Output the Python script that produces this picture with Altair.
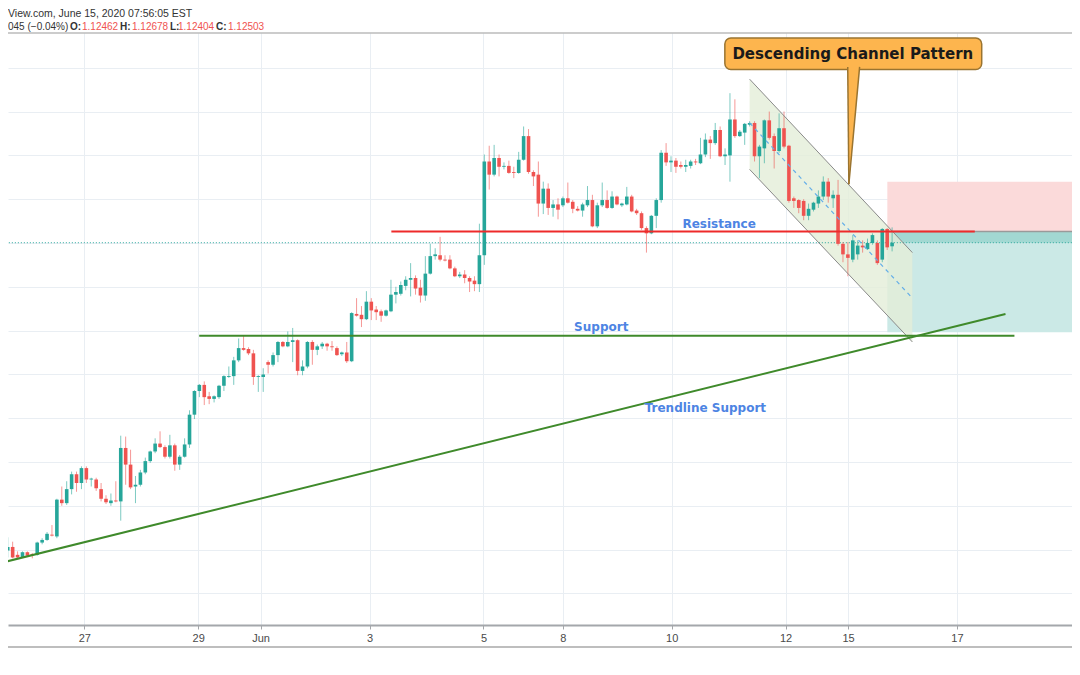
import altair as alt
import pandas as pd

# ---------------- data (EUR/USD, 2-hour candles) ----------------
opens = [
    1.0899, 1.0903, 1.0894, 1.0891, 1.0897, 1.0895, 1.0894, 1.0908, 1.0911, 1.0917,
    1.0915, 1.0957, 1.0953, 1.0969, 1.0986, 1.0976, 1.0993, 1.0980, 1.0980, 1.0969,
    1.0958, 1.0953, 1.0956, 1.0955, 1.1016, 1.0997, 1.0972, 1.0974, 1.0988, 1.1001,
    1.1012, 1.1021, 1.1017, 1.1006, 1.1019, 1.0997, 1.1006, 1.1020, 1.1054, 1.1081,
    1.1088, 1.1075, 1.1072, 1.1074, 1.1087, 1.1097, 1.1098, 1.1116, 1.1130, 1.1129,
    1.1124, 1.1097, 1.1097, 1.1114, 1.1111, 1.1122, 1.1137, 1.1132, 1.1137, 1.1139,
    1.1104, 1.1109, 1.1137, 1.1128, 1.1132, 1.1135, 1.1132, 1.1130, 1.1123, 1.1125,
    1.1115, 1.1169, 1.1168, 1.1163, 1.1183, 1.1174, 1.1172, 1.1167, 1.1172, 1.1191,
    1.1192, 1.1201, 1.1208, 1.1210, 1.1199, 1.1190, 1.1215, 1.1235, 1.1236, 1.1231,
    1.1231, 1.1221, 1.1212, 1.1214, 1.1210, 1.1207, 1.1203, 1.1236, 1.1343, 1.1328,
    1.1347, 1.1337, 1.1338, 1.1331, 1.1330, 1.1345, 1.1372, 1.1331, 1.1328, 1.1295,
    1.1312, 1.1290, 1.1294, 1.1293, 1.1301, 1.1297, 1.1289, 1.1287, 1.1293, 1.1299,
    1.1269, 1.1293, 1.1299, 1.1290, 1.1303, 1.1293, 1.1294, 1.1303, 1.1287, 1.1284,
    1.1267, 1.1261, 1.1281, 1.1299, 1.1353, 1.1342, 1.1344, 1.1339, 1.1337, 1.1338,
    1.1343, 1.1341, 1.1351, 1.1368, 1.1364, 1.1379, 1.1349, 1.1350, 1.1391, 1.1372,
    1.1376, 1.1385, 1.1387, 1.1349, 1.1358, 1.1390, 1.1372, 1.1355, 1.1381, 1.1361,
    1.1301, 1.1299, 1.1298, 1.1281, 1.1288, 1.1295, 1.1303, 1.1320, 1.1301, 1.1305,
    1.1249, 1.1237, 1.1231, 1.1237, 1.1247, 1.1243, 1.1250, 1.1250, 1.1231, 1.1266,
    1.12462,
]
highs = [
    1.0914, 1.0909, 1.0898, 1.0898, 1.0898, 1.0896, 1.0909, 1.0913, 1.0920, 1.0928,
    1.0958, 1.0972, 1.0978, 1.0989, 1.0989, 1.0995, 1.0995, 1.0982, 1.0982, 1.0976,
    1.0962, 1.0964, 1.0978, 1.1030, 1.1029, 1.1014, 1.0984, 1.0991, 1.1005, 1.1013,
    1.1027, 1.1035, 1.1019, 1.1031, 1.1021, 1.1008, 1.1027, 1.1059, 1.1082, 1.1089,
    1.1092, 1.1080, 1.1076, 1.1088, 1.1099, 1.1109, 1.1120, 1.1141, 1.1144, 1.1131,
    1.1128, 1.1099, 1.1107, 1.1116, 1.1125, 1.1138, 1.1138, 1.1149, 1.1153, 1.1140,
    1.1116, 1.1138, 1.1139, 1.1134, 1.1137, 1.1136, 1.1138, 1.1132, 1.1126, 1.1137,
    1.1171, 1.1187, 1.1178, 1.1195, 1.1187, 1.1178, 1.1174, 1.1174, 1.1208, 1.1200,
    1.1206, 1.1212, 1.1227, 1.1213, 1.1208, 1.1235, 1.1249, 1.1244, 1.1257, 1.1236,
    1.1236, 1.1223, 1.1217, 1.1219, 1.1212, 1.1212, 1.1272, 1.1351, 1.1361, 1.1362,
    1.1351, 1.1342, 1.1344, 1.1337, 1.1354, 1.1383, 1.1380, 1.1333, 1.1343, 1.1320,
    1.1318, 1.1299, 1.1301, 1.1303, 1.1319, 1.1299, 1.1292, 1.1296, 1.1315, 1.1305,
    1.1296, 1.1319, 1.1310, 1.1309, 1.1304, 1.1296, 1.1314, 1.1305, 1.1289, 1.1286,
    1.1269, 1.1282, 1.1301, 1.1356, 1.1364, 1.1349, 1.1347, 1.1343, 1.1345, 1.1345,
    1.1346, 1.1370, 1.1375, 1.1372, 1.1387, 1.1383, 1.1358, 1.1421, 1.1414, 1.1379,
    1.1387, 1.1389, 1.1389, 1.1362, 1.1391, 1.1400, 1.1375, 1.1398, 1.1400, 1.1362,
    1.1303, 1.1300, 1.1300, 1.1295, 1.1297, 1.1310, 1.1326, 1.1324, 1.1310, 1.1322,
    1.1251, 1.1251, 1.1259, 1.1253, 1.1253, 1.1255, 1.1261, 1.1253, 1.1267, 1.1267,
    1.12678,
]
lows = [
    1.0891, 1.0890, 1.0890, 1.0891, 1.0892, 1.0890, 1.0893, 1.0906, 1.0910, 1.0915,
    1.0913, 1.0950, 1.0951, 1.0963, 1.0966, 1.0969, 1.0976, 1.0972, 1.0967, 1.0955,
    1.0952, 1.0950, 1.0954, 1.0933, 1.0974, 1.0969, 1.0953, 1.0972, 1.0986, 1.0999,
    1.1010, 1.1016, 1.1004, 1.1004, 1.0990, 1.0991, 1.1005, 1.1016, 1.1049, 1.1074,
    1.1065, 1.1066, 1.1068, 1.1072, 1.1081, 1.1096, 1.1088, 1.1114, 1.1127, 1.1122,
    1.1088, 1.1080, 1.1080, 1.1101, 1.1109, 1.1114, 1.1131, 1.1131, 1.1114, 1.1099,
    1.1099, 1.1107, 1.1111, 1.1122, 1.1129, 1.1127, 1.1127, 1.1121, 1.1121, 1.1113,
    1.1114, 1.1166, 1.1154, 1.1162, 1.1162, 1.1162, 1.1160, 1.1166, 1.1171, 1.1181,
    1.1190, 1.1196, 1.1189, 1.1191, 1.1182, 1.1184, 1.1214, 1.1231, 1.1229, 1.1229,
    1.1220, 1.1211, 1.1210, 1.1204, 1.1194, 1.1195, 1.1194, 1.1225, 1.1311, 1.1326,
    1.1326, 1.1334, 1.1329, 1.1324, 1.1329, 1.1344, 1.1329, 1.1315, 1.1280, 1.1283,
    1.1282, 1.1280, 1.1277, 1.1291, 1.1295, 1.1284, 1.1286, 1.1280, 1.1291, 1.1268,
    1.1267, 1.1291, 1.1289, 1.1289, 1.1293, 1.1291, 1.1293, 1.1285, 1.1282, 1.1265,
    1.1239, 1.1260, 1.1267, 1.1296, 1.1338, 1.1331, 1.1330, 1.1335, 1.1331, 1.1335,
    1.1339, 1.1340, 1.1348, 1.1346, 1.1362, 1.1348, 1.1339, 1.1320, 1.1370, 1.1371,
    1.1362, 1.1383, 1.1343, 1.1324, 1.1341, 1.1368, 1.1335, 1.1353, 1.1358, 1.1296,
    1.1290, 1.1284, 1.1276, 1.1276, 1.1286, 1.1290, 1.1299, 1.1296, 1.1290, 1.1247,
    1.1228, 1.1212, 1.1228, 1.1231, 1.1239, 1.1242, 1.1248, 1.1225, 1.1228, 1.1242,
    1.12404,
]
closes = [
    1.0903, 1.0891, 1.0891, 1.0897, 1.0893, 1.0894, 1.0908, 1.0911, 1.0918, 1.0916,
    1.0957, 1.0953, 1.0969, 1.0986, 1.0976, 1.0993, 1.0980, 1.0981, 1.0970, 1.0958,
    1.0954, 1.0956, 1.0955, 1.1016, 1.0997, 1.0971, 1.0974, 1.0988, 1.1001, 1.1012,
    1.1021, 1.1017, 1.1006, 1.1019, 1.0997, 1.1006, 1.1020, 1.1054, 1.1081, 1.1088,
    1.1074, 1.1072, 1.1075, 1.1087, 1.1098, 1.1098, 1.1116, 1.1130, 1.1128, 1.1124,
    1.1097, 1.1098, 1.1100, 1.1111, 1.1122, 1.1137, 1.1132, 1.1137, 1.1139, 1.1104,
    1.1109, 1.1137, 1.1128, 1.1132, 1.1135, 1.1132, 1.1131, 1.1122, 1.1125, 1.1115,
    1.1170, 1.1167, 1.1163, 1.1183, 1.1173, 1.1171, 1.1167, 1.1173, 1.1191, 1.1194,
    1.1202, 1.1208, 1.1210, 1.1198, 1.1190, 1.1215, 1.1235, 1.1237, 1.1231, 1.1230,
    1.1221, 1.1212, 1.1214, 1.1210, 1.1206, 1.1203, 1.1236, 1.1343, 1.1328, 1.1347,
    1.1337, 1.1338, 1.1330, 1.1330, 1.1345, 1.1372, 1.1331, 1.1326, 1.1295, 1.1312,
    1.1290, 1.1294, 1.1288, 1.1301, 1.1296, 1.1289, 1.1287, 1.1294, 1.1299, 1.1269,
    1.1293, 1.1299, 1.1290, 1.1303, 1.1294, 1.1295, 1.1303, 1.1286, 1.1284, 1.1267,
    1.1261, 1.1281, 1.1299, 1.1353, 1.1342, 1.1344, 1.1337, 1.1337, 1.1339, 1.1343,
    1.1342, 1.1351, 1.1368, 1.1364, 1.1379, 1.1349, 1.1351, 1.1391, 1.1372, 1.1377,
    1.1386, 1.1387, 1.1349, 1.1360, 1.1390, 1.1370, 1.1355, 1.1381, 1.1360, 1.1298,
    1.1298, 1.1290, 1.1281, 1.1289, 1.1296, 1.1303, 1.1320, 1.1303, 1.1305, 1.1249,
    1.1237, 1.1233, 1.1253, 1.1247, 1.1245, 1.1250, 1.1259, 1.1227, 1.1266, 1.1245,
    1.12503,
]

# x axis: day boundaries expressed in candle index units
tick_pos = [15.58, 38.77, 51.47, 73.65, 96.83, 112.96, 135.14, 158.33, 171.03, 193.21]
tick_labels = ["27", "29", "Jun", "3", "5", "8", "10", "12", "15", "17"]
grid_prices = [1.085, 1.09, 1.095, 1.10, 1.105, 1.11, 1.115, 1.12, 1.125, 1.13, 1.135, 1.14, 1.145]

# drawings (candle index, price)
resistance_price = 1.1263
resistance_x = [78.08, 196.83]
support_price = 1.1144
support_x = [38.97, 204.9]
trend_x = [-0.54, 203.08]
trend_y = [1.0886, 1.1169]
channel_x = [151.0, 184.13]
channel_upper = [1.1437, 1.1239]
channel_lower = [1.1334, 1.1137]
channel_mid = [1.1387, 1.1187]
pos_x = [179.03, 217.2]
pos_stop = 1.1320
pos_entry = 1.1263
pos_target = 1.1148
last_price = 1.12503

callout_text = "Descending Channel Pattern"
callout_box_x = [145.96, 198.24]
callout_box_y = [1.1484, 1.1448]
callout_text_pos = [172.0, 1.1466]
pointer_y = [1.1451, 1.1317]
pointer_x1 = [170.97, 171.2]
pointer_x2 = [173.39, 171.2]

labels_text = ["Resistance", "Support", "Trendline Support"]
labels_x = [144.8, 120.8, 142.0]
labels_y = [1.1272, 1.1154, 1.1062]

header_line1 = "View.com, June 15, 2020 07:56:05 EST"
header_line2 = ["045 (\u22120.04%)", "O:", "1.12462", "H:", "1.12678", "L:", "1.12404", "C:", "1.12503"]

# ---------------- chart ----------------
GREEN = "#26a69a"
RED = "#ef5350"
GRID = "#e9eef3"

n = len(opens)
df = pd.DataFrame({"i": list(range(n)), "o": opens, "h": highs, "l": lows, "c": closes})
df["dir"] = ["up" if c >= o else "down" for o, c in zip(opens, closes)]

xscale = alt.Scale(domain=[1.07, 215.6], nice=False, zero=False)
yscale = alt.Scale(domain=[1.08139, 1.14897], nice=False, zero=False)
cscale = alt.Scale(domain=["up", "down"], range=[GREEN, RED])

expr = "''"
for p, t in reversed(list(zip(tick_pos, tick_labels))):
    expr = f"datum.value == {p} ? '{t}' : ({expr})"

xaxis = alt.Axis(values=tick_pos, labelExpr=expr, grid=True, gridColor=GRID, gridWidth=1,
                 domainColor="#a4a7ab", domainWidth=2, tickColor="#a4a7ab", tickSize=4,
                 labelColor="#4a4a4a", labelFontSize=11, labelFont="Liberation Sans",
                 labelPadding=3, title=None, labelOverlap=False, labelFlush=False)
yaxis = alt.Axis(values=grid_prices, labels=False, ticks=False, domain=False, grid=True,
                 gridColor=GRID, gridWidth=1, title=None)


def X(f):
    return alt.X(f, type="quantitative", scale=xscale, axis=None)


def Y(f):
    return alt.Y(f, type="quantitative", scale=yscale, axis=None)


def seg(xa, ya, xb, yb, **mark):
    d = pd.DataFrame({"x": [xa], "y": [ya], "x2": [xb], "y2": [yb]})
    return alt.Chart(d).mark_rule(**mark).encode(x=X("x"), y=Y("y"), x2="x2:Q", y2="y2:Q")


def box(xa, xb, ya, yb, **mark):
    d = pd.DataFrame({"x": [xa], "x2": [xb], "y": [ya], "y2": [yb]})
    return alt.Chart(d).mark_rect(**mark).encode(x=X("x"), x2="x2:Q", y=Y("y"), y2="y2:Q")


layers = []

# axes / grid layer (invisible marks)
axes_layer = alt.Chart(df).mark_rule(opacity=0).encode(
    x=alt.X("i:Q", scale=xscale, axis=xaxis),
    y=alt.Y("l:Q", scale=yscale, axis=yaxis),
)
layers.append(axes_layer)

# position tool boxes
layers.append(box(pos_x[0], pos_x[1], pos_stop, pos_entry, color="#fbdada", clip=True))
layers.append(box(pos_x[0], pos_x[1], pos_entry, pos_target, color="#cbe9e6", clip=True))
layers.append(box(pos_x[0], pos_x[1], pos_entry, last_price, color="#a2d8d2", clip=True))

# channel fill
ch = pd.DataFrame({"x": channel_x, "u": channel_upper, "lo": channel_lower, "m": channel_mid})
layers.append(alt.Chart(ch).mark_area(color="#e3eed8", opacity=0.8).encode(
    x=X("x"), y=Y("u"), y2="lo:Q"))

# current price dotted line
layers.append(seg(-1, last_price, 220, last_price, color=GREEN, strokeWidth=1,
                  strokeDash=[1, 2], clip=True))

# candles
layers.append(alt.Chart(df).mark_rule(strokeWidth=1, opacity=0.6, clip=True).encode(
    x=X("i"), y=Y("l"), y2="h:Q",
    color=alt.Color("dir:N", scale=cscale, legend=None)))
layers.append(alt.Chart(df).mark_bar(size=3.6, clip=True).encode(
    x=X("i"), y=Y("o"), y2="c:Q",
    color=alt.Color("dir:N", scale=cscale, legend=None)))

# channel borders and midline
layers.append(seg(channel_x[0], channel_upper[0], channel_x[1], channel_upper[1],
                  color="#8a8a8a", strokeWidth=1))
layers.append(seg(channel_x[0], channel_lower[0], channel_x[1], channel_lower[1],
                  color="#8a8a8a", strokeWidth=1))
layers.append(seg(channel_x[0], channel_mid[0], channel_x[1], channel_mid[1],
                  color="#64aee8", strokeWidth=1.2, strokeDash=[4, 4]))

# entry line of position tool, resistance, support, trendline
layers.append(seg(pos_x[0], pos_entry, pos_x[1], pos_entry, color="#9a9a9a",
                  strokeWidth=1.5, clip=True))
layers.append(seg(resistance_x[0], resistance_price, resistance_x[1], resistance_price,
                  color="#ee2a2a", strokeWidth=2))
layers.append(seg(support_x[0], support_price, support_x[1], support_price,
                  color="#3f8a2b", strokeWidth=2))
layers.append(seg(trend_x[0], trend_y[0], trend_x[1], trend_y[1],
                  color="#3f8a2b", strokeWidth=2, clip=True))

# labels
lab = pd.DataFrame({"x": labels_x, "y": labels_y, "t": labels_text})
layers.append(alt.Chart(lab).mark_text(fontSize=12, fontWeight="bold", font="DejaVu Sans",
                                       color="#4d84e3").encode(x=X("x"), y=Y("y"), text="t:N"))

# callout
layers.append(box(callout_box_x[0], callout_box_x[1], callout_box_y[0], callout_box_y[1],
                  color="#fdb54e", stroke="#9a7430", strokeWidth=1.5, cornerRadius=6))
ptr = pd.DataFrame({"y": pointer_y, "x1": pointer_x1, "x2": pointer_x2})
layers.append(alt.Chart(ptr).mark_area(orient="horizontal", color="#fdb54e").encode(
    y=Y("y"), x=X("x1"), x2="x2:Q"))
layers.append(seg(pointer_x1[0], pointer_y[0], pointer_x1[1], pointer_y[1],
                  color="#9a7430", strokeWidth=1.5))
layers.append(seg(pointer_x2[0], pointer_y[0], pointer_x2[1], pointer_y[1],
                  color="#9a7430", strokeWidth=1.5))
ct = pd.DataFrame({"x": [callout_text_pos[0]], "y": [callout_text_pos[1]], "t": [callout_text]})
layers.append(alt.Chart(ct).mark_text(fontSize=15, fontWeight="bold", font="DejaVu Sans",
                                      color="#1a1a1a").encode(x=X("x"), y=Y("y"), text="t:N"))

# frame lines (top border, bottom border)
layers.append(alt.Chart(pd.DataFrame({"k": [0]})).mark_rule(color="#9a9a9a", strokeWidth=1.2).encode(
    x=alt.value(0), x2=alt.value(1064), y=alt.value(0)))
layers.append(alt.Chart(pd.DataFrame({"k": [0]})).mark_rule(color="#a9a9a9", strokeWidth=1.5).encode(
    x=alt.value(0), x2=alt.value(1064), y=alt.value(614)))

# header text
layers.append(alt.Chart(pd.DataFrame({"t": [header_line1]})).mark_text(
    align="left", baseline="middle", fontSize=10.5, font="Liberation Sans", color="#333333").encode(
    x=alt.value(0), y=alt.value(-19), text="t:N"))
seg_x = [0, 62, 74, 112, 124, 162, 170, 208, 220]
for k, s in enumerate(header_line2):
    is_val = k in (2, 4, 6, 8)
    layers.append(alt.Chart(pd.DataFrame({"t": [s]})).mark_text(
        align="left", baseline="middle", fontSize=10, font="Liberation Sans",
        fontWeight="normal" if (is_val or k == 0) else "bold",
        color=RED if is_val else "#333333").encode(
        x=alt.value(seg_x[k]), y=alt.value(-6), text="t:N"))

chart = alt.layer(*layers).resolve_axis(x="independent", y="independent").properties(
    width=1064, height=592,
    autosize=alt.AutoSizeParams(type="none"),
    padding={"left": 0, "top": 25, "right": 0, "bottom": 50},
).configure(background="white").configure_view(stroke=None)

chart.save("out.html", embed_options={"renderer": "svg", "actions": False})
